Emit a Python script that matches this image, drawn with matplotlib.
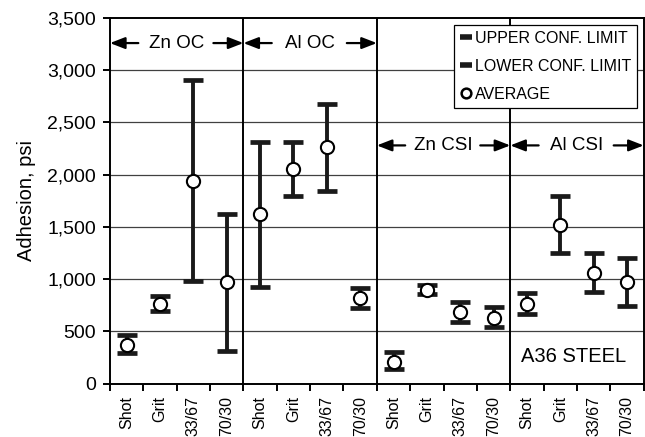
import numpy as np
import matplotlib.pyplot as plt
from matplotlib.lines import Line2D

plt.rcParams['font.family'] = ['Liberation Sans', 'DejaVu Sans']

# surface preparations, repeated for each coating group
preps = ['Shot', 'Grit', '33/67', '70/30']
groups = ['Zn OC', 'Al OC', 'Zn CSI', 'Al CSI']

# adhesion (psi): average, upper and lower confidence limits
avg = [370, 765, 1940, 975,
       1625, 2050, 2260, 820,
       210, 895, 685, 630,
       765, 1515, 1060, 975]
upper = [460, 840, 2910, 1620,
         2310, 2310, 2680, 910,
         300, 940, 780, 730,
         870, 1800, 1245, 1200]
lower = [295, 695, 985, 310,
         925, 1800, 1845, 720,
         140, 855, 590, 540,
         665, 1245, 875, 740]

# height of the group headers
header_y = [3260, 3260, 2280, 2280]

n = len(avg)
x = np.arange(n) + 0.5
avg = np.array(avg)
yerr = [avg - np.array(lower), np.array(upper) - avg]

fig = plt.figure(figsize=(6.45, 4.37), dpi=100)
ax = fig.add_axes([0.1705, 0.1224, 0.8275, 0.8364])

ax.set_xlim(0, n)
ax.set_ylim(0, 3500)

# horizontal grid
for g in range(500, 3500, 500):
    ax.axhline(g, color='0.25', lw=0.9, zorder=1)

# group dividers
for b in (4, 8, 12):
    ax.axvline(b, color='black', lw=1.4, zorder=2)

eb = ax.errorbar(x, avg, yerr=yerr, fmt='o', color='#1a1a1a', ecolor='#1a1a1a',
                 elinewidth=2.8, capsize=7.5, capthick=3.4,
                 markersize=9.5, markerfacecolor='white', markeredgecolor='black',
                 zorder=4)
eb.lines[0].set_markeredgewidth(1.5)

# group headers with arrows to the group edges
for i, (name, hy) in enumerate(zip(groups, header_y)):
    x0, x1 = 4 * i, 4 * i + 4
    xc = (x0 + x1) / 2
    ax.text(xc, hy, name, ha='center', va='center', fontsize=13.5, zorder=5)
    ap = dict(arrowstyle='-|>,head_length=0.9,head_width=0.35', color='black',
              lw=1.6, shrinkA=0, shrinkB=0)
    ax.annotate('', xy=(x0, hy), xytext=(xc - 1.15, hy), arrowprops=ap)
    ax.annotate('', xy=(x1, hy), xytext=(xc + 1.1, hy), arrowprops=ap)

ax.text(13.9, 260, 'A36 STEEL', ha='center', va='center', fontsize=14.5)

# legend
handles = [
    Line2D([], [], color='#1a1a1a', lw=4, solid_capstyle='butt'),
    Line2D([], [], color='#1a1a1a', lw=4, solid_capstyle='butt'),
    Line2D([], [], ls='none', marker='o', markersize=7,
           markerfacecolor='white', markeredgecolor='black', markeredgewidth=1.8),
]
leg = ax.legend(handles, ['UPPER CONF. LIMIT', 'LOWER CONF. LIMIT', 'AVERAGE'],
                loc='upper right', bbox_to_anchor=(0.988, 0.982),
                fontsize=11.5, handlelength=0.75, handletextpad=0.15,
                borderpad=0.4, labelspacing=0.8, borderaxespad=0,
                fancybox=False, framealpha=1, edgecolor='black')
leg.get_frame().set_linewidth(0.9)
leg.set_zorder(6)

# axes, ticks and labels
ax.set_xticks(np.arange(0, n + 1))
ax.set_xticklabels([])
ax.set_xticks(x, minor=True)
ax.set_xticklabels(preps * 4, minor=True, rotation=90, fontsize=11.5)
ax.tick_params(axis='x', which='minor', length=0, pad=9)
ax.tick_params(axis='x', which='major', direction='out', length=5, width=1.4)

ax.set_yticks(range(0, 3501, 500))
ax.set_yticklabels([f'{v:,}' for v in range(0, 3501, 500)], fontsize=14)
ax.tick_params(axis='y', direction='out', length=5, width=1.4, pad=5)
ax.set_ylabel('Adhesion, psi', fontsize=14.5, labelpad=8)

for s in ax.spines.values():
    s.set_linewidth(1.4)

fig.savefig('out.png', dpi=100)
